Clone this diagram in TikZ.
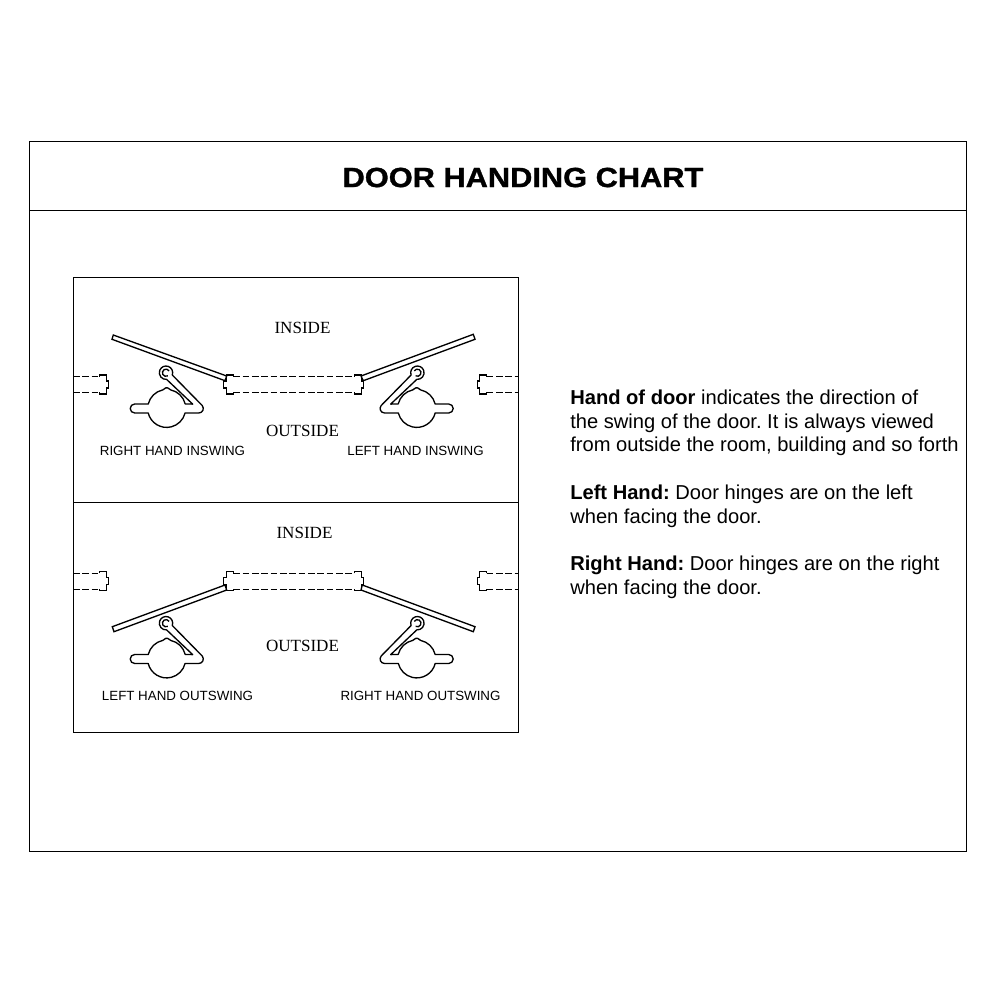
\documentclass[tikz,border=0pt]{standalone}
\usepackage{fontspec}
\setmainfont{Liberation Sans}
\newfontfamily\wordface{Liberation Serif}
\newfontfamily\titleface[FakeBold=1.2,FakeStretch=1.11]{Liberation Sans Bold}
\tikzset{
  hand/.style={font=\fontsize{10}{12}\selectfont, inner sep=0pt},
  side/.style={font=\wordface\fontsize{12.8}{15}\selectfont, inner sep=0pt},
  para/.style={font=\fontsize{15.1}{17.8}\selectfont\frenchspacing, inner sep=0pt, anchor=north west, align=left},
  frameline/.style={line width=.7pt},
  thinline/.style={line width=1pt},
  wallline/.style={line width=.7pt, dash pattern=on 5pt off 2pt},
  knob/.pic={
    \draw[thinline, line join=round] (-18.5,-4.5) -- (-32,-4.5) arc (270:90:4.5) -- (-18.5,4.5)
      arc (166:14:19) -- (32,4.5) .. controls (36,4.5) and (38,0) .. (35.5,-3)
      -- (5.6,-33.5) arc (20:-275:6.7) -- (26,-4.4) -- (18.5,-4.6)
      arc (-14:-78:19) -- (1,-20.6) -- (-1,-20.6) -- (-3.95,-18.6) arc (-102:-166:19) -- cycle;
    \draw[thinline] (-0.7,-35.8) ++(60:3.6) arc (60:330:3.6);
  },
  jamb/.pic={
    \draw[thinline] (0,-7.8) -- (0,-9.5) -- (7,-9.5) -- (7,-3.5) -- (9.5,-3.5) -- (9.5,3.5)
      -- (7,3.5) -- (7,9.5) -- (0,9.5) -- (0,7.8);
  }
}
\begin{document}
\begin{tikzpicture}[x=.75pt, y=-.75pt]
  \useasboundingbox (0,0) rectangle (1000,1000);
  \draw[frameline] (29.7,141.7) rectangle (966,851);
  \draw[frameline] (29.7,210) -- (966,210);
  \draw[frameline] (73,277) rectangle (518,732);
  \draw[frameline] (73,502) -- (518,502);
  \node (title) [inner sep=0pt, font=\titleface\fontsize{20.8}{24}\selectfont] at (523,177.5) {DOOR HANDING CHART};

  \node (inside1) [side] at (302.5,328) {INSIDE};
  \node (outside1) [side] at (302.5,431) {OUTSIDE};
  \node (inside2) [side] at (304.5,533) {INSIDE};
  \node (outside2) [side] at (302.5,646) {OUTSIDE};
  \node (rhi) [hand] at (172.5,450.5) {RIGHT HAND INSWING};
  \node (lhi) [hand] at (415.5,450.5) {LEFT HAND INSWING};
  \node (lho) [hand] at (177.5,695.5) {LEFT HAND OUTSWING};
  \node (rho) [hand] at (420.5,695.5) {RIGHT HAND OUTSWING};

  \node (handof) [para] at (570,389.5) {\textbf{Hand of door} indicates the direction of\\the swing of the door. It is always viewed\\from outside the room, building and so forth};
  \node (lefthand) [para] at (570,484.5) {\textbf{Left Hand:} Door hinges are on the left\\when facing the door.};
  \node (righthand) [para] at (570,556) {\textbf{Right Hand:} Door hinges are on the right\\when facing the door.};

  \foreach \y in {376.7,392.3,573.4,589} {
    \draw[wallline] (73,\y) -- (99.3,\y);
    \draw[wallline] (233.3,\y) -- (354.3,\y);
    \draw[wallline] (486.7,\y) -- (518,\y);
  }
  \foreach \y in {384.5,581.2} {
    \pic at (99.3,\y) {jamb};
    \pic[xscale=-1] at (233.3,\y) {jamb};
    \pic at (354.3,\y) {jamb};
    \pic[xscale=-1] at (486.7,\y) {jamb};
  }

  \draw[thinline] (113.3,335) -- (226.7,376) -- (225,380.7) -- (112,339.3) -- cycle;
  \draw[thinline] (361,376) -- (473.3,334.3) -- (475,339.3) -- (363.3,380.7) -- cycle;
  \draw[thinline] (225,585) -- (226.7,590) -- (114,631.7) -- (112.3,626.7) -- cycle;
  \draw[thinline] (362.3,585) -- (475,626.7) -- (473.3,631.7) -- (361,590) -- cycle;

  \pic at (166.7,408.5) {knob};
  \pic[xscale=-1] at (416.7,408.5) {knob};
  \pic at (166.7,659) {knob};
  \pic[xscale=-1] at (416.7,659) {knob};
\end{tikzpicture}
\end{document}
